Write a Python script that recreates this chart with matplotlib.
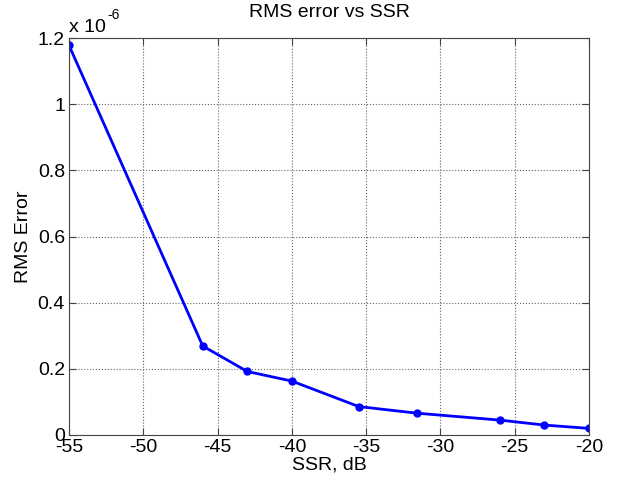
import matplotlib
matplotlib.use("Agg")
import matplotlib.pyplot as plt

plt.rcParams['font.family'] = ['Liberation Sans', 'DejaVu Sans']
plt.rcParams['axes.unicode_minus'] = False

ssr_db = [-55, -46, -43, -40, -35.5, -31.6, -26, -23, -20]
rms_err = [1.178, 0.269, 0.192, 0.163, 0.086, 0.066, 0.045, 0.030, 0.020]  # x 1e-6

fig = plt.figure(figsize=(6.22, 4.83), dpi=100)
ax = fig.add_axes([0.111, 0.0994, 0.836, 0.8216])

ax.plot(ssr_db, rms_err, color="#0000ff", linewidth=2, marker="o", markersize=5)

ax.set_xlim(-55, -20)
ax.set_ylim(0, 1.2)
ax.set_xticks([-55, -50, -45, -40, -35, -30, -25, -20])
ax.set_yticks([0, 0.2, 0.4, 0.6, 0.8, 1.0, 1.2])
ax.set_yticklabels(["0", "0.2", "0.4", "0.6", "0.8", "1", "1.2"])
ax.grid(True, linestyle=":", color="#666666", linewidth=0.8)
ax.tick_params(direction="in", top=True, right=True, labelsize=14, length=5,
               color="#444444", pad=3)
for s in ax.spines.values():
    s.set_color("#444444")

ax.set_xlabel("SSR, dB", fontsize=14, labelpad=0)
ax.set_ylabel("RMS Error", fontsize=14, labelpad=4)
ax.set_title("RMS error vs SSR", fontsize=14, pad=15)
# MATLAB-style exponent label above the y axis
ax.text(0.0, 1.005, "x 10", transform=ax.transAxes, fontsize=14,
        ha="left", va="bottom")
ax.text(0.074, 1.04, "-6", transform=ax.transAxes, fontsize=10,
        ha="left", va="bottom")

fig.savefig("out.png", dpi=100)
